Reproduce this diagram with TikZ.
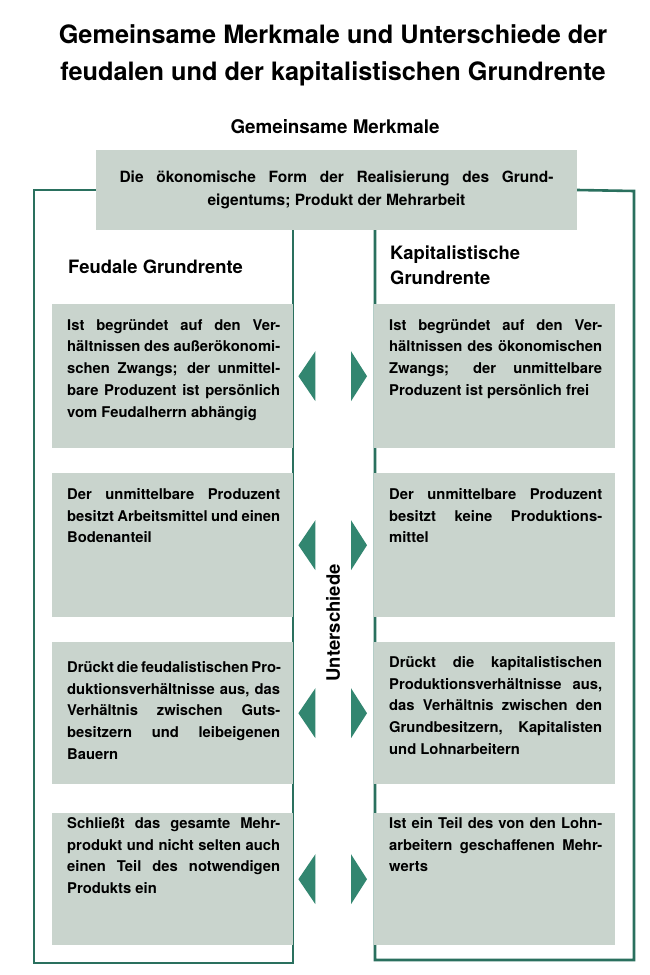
\documentclass[tikz,border=0pt]{standalone}
\usepackage{fontspec}
\setmainfont{TeX Gyre Heros}
\usetikzlibrary{positioning,calc}
\definecolor{boxgrey}{RGB}{201,212,205}
\definecolor{framegreen}{RGB}{42,112,94}
\definecolor{arrowgreen}{RGB}{50,134,112}
\tikzset{
	feld/.style={fill=boxgrey, draw=none, anchor=north west, inner sep=0pt,
			minimum width=241pt},
	feldtext/.style={anchor=north west, text width=213pt, align=justify, inner sep=0pt,
			font=\bfseries\fontsize{14.8}{21.8}\selectfont},
	rahmen/.style={framegreen, line width=2.6pt},
	pfeil/.style={fill=arrowgreen, draw=none},
	kopf/.style={anchor=west, align=left, inner sep=0pt,
			font=\bfseries\fontsize{18.4}{25}\selectfont}
}

\begin{document}
\begin{tikzpicture}[x=1pt, y=-1pt]
			\useasboundingbox[fill=white] (0, 0) rectangle (650, 975);

			% Titel
			\node[align=center, font=\bfseries\fontsize{25.3}{37}\selectfont] (titel) at (333, 55)
				{Gemeinsame Merkmale und Unterschiede der\\feudalen und der kapitalistischen Grundrente};
			\node[font=\bfseries\fontsize{18.8}{20}\selectfont] (gemeinsam) at (335, 127) {Gemeinsame Merkmale};

			% Rahmen
			\node[fill=boxgrey, minimum width=481pt, minimum height=80pt, inner sep=0pt, align=center,
				font=\bfseries\fontsize{15.5}{23}\selectfont] (form) at (336.5, 190)
				{\makebox[434pt][s]{Die ökonomische Form der Realisierung des Grund-}\\eigentums; Produkt der Mehrarbeit};
			\draw[rahmen]	(form.west) -- (34, 190) -- (34, 963) -- (293, 963) -- (293, 230);
			\draw[rahmen]	(form.east) -- (634, 191) -- (634, 960) -- (375, 960) -- (375, 230);

			\node[kopf] (feudal) at (68, 267) {Feudale Grundrente};
			\node[kopf] (kapital) at (390, 265.5) {Kapitalistische\\Grundrente};

			% Felder links
			\node[feld, minimum height=144pt] (f1) at (52, 304) {};
			\node[feld, minimum height=144pt] (f2) at (52, 473) {};
			\node[feld, minimum height=142pt] (f3) at (52, 642) {};
			\node[feld, minimum height=132pt] (f4) at (52, 813) {};
			% Felder rechts
			\node[feld, minimum height=144pt] (k1) at (374, 304) {};
			\node[feld, minimum height=144pt] (k2) at (374, 473) {};
			\node[feld, minimum height=142pt] (k3) at (374, 642) {};
			\node[feld, minimum height=132pt] (k4) at (374, 813) {};

			\node[feldtext] (f1text) at (67, 319) {Ist begründet auf den Ver-\linebreak hältnissen des außerökonomi-\linebreak schen Zwangs; der unmittel-\linebreak bare Produzent ist persönlich\linebreak vom Feudalherrn abhängig};
			\node[feldtext] (f2text) at (67, 488) {Der unmittelbare Produzent\linebreak besitzt Arbeitsmittel und einen\linebreak Bodenanteil};
			\node[feldtext] (f3text) at (67, 661) {\makebox[\linewidth][s]{Drückt die feudalistischen Pro-}\\ duktionsverhältnisse aus, das\linebreak Verhältnis zwischen Guts-\linebreak besitzern und leibeigenen\linebreak Bauern};
			\node[feldtext] (f4text) at (67, 817) {Schließt das gesamte Mehr-\linebreak produkt und nicht selten auch\linebreak einen Teil des notwendigen\linebreak Produkts ein};

			\node[feldtext] (k1text) at (389, 319) {Ist begründet auf den Ver-\linebreak hältnissen des ökonomischen\linebreak Zwangs; der unmittelbare\linebreak Produzent ist persönlich frei};
			\node[feldtext] (k2text) at (389, 488) {Der unmittelbare Produzent\linebreak besitzt keine Produktions-\linebreak mittel};
			\node[feldtext] (k3text) at (389, 656) {Drückt die kapitalistischen\linebreak Produktionsverhältnisse aus,\linebreak das Verhältnis zwischen den\linebreak Grundbesitzern, Kapitalisten\linebreak und Lohnarbeitern};
			\node[feldtext] (k4text) at (389, 817) {Ist ein Teil des von den Lohn-\linebreak arbeitern geschaffenen Mehr-\linebreak werts};

			% Dreiecke
			\foreach \i in {1,...,4} {
				\fill[pfeil] ([xshift=5pt]f\i.east) -- ++(17, -25) -- ++(0, 50) -- cycle;
				\fill[pfeil] ([xshift=-7pt]k\i.west) -- ++(-16, -25) -- ++(0, 50) -- cycle;
			}

			\node[rotate=90, font=\bfseries\fontsize{18.5}{20}\selectfont] (unterschiede) at (333, 623) {Unterschiede};
		\end{tikzpicture}
\end{document}
